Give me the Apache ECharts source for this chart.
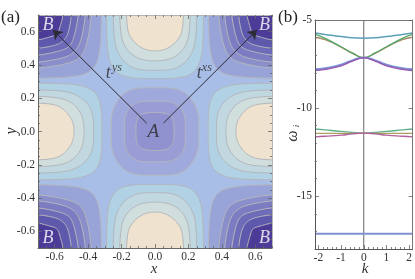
<!DOCTYPE html>
<html><head><meta charset="utf-8">
<style>html,body{margin:0;padding:0;background:#fff}#c{width:415px;height:279px}</style>
<script src="https://cdn.jsdelivr.net/npm/echarts@6/dist/echarts.min.js"></script>
</head><body><div id="c"></div>
<script>
// ---- panel (a): contour lines read in one quadrant, [x,y]
const cornerContours = [
 [[.32,.9],[.32,.6],[.335,.44],[.37,.37]],
 [[.37,.9],[.378,.7],[.405,.53],[.442,.442]],
 [[.405,.9],[.414,.7],[.442,.54],[.478,.478]],
 [[.445,.9],[.456,.7],[.485,.56],[.51,.51]],
 [[.485,.9],[.498,.7],[.518,.59],[.545,.545]],
 [[.53,.9],[.548,.7],[.568,.63],[.582,.582]]
];
const cornerColors = ['#98a4d8','#8a8ecb','#7b7cc2','#6e6bb9','#5f59ae','#4c3c98'];
const edgeContours = [
 [[.9,.29],[.55,.29],[.42,.275],[.34,.225],[.318,.12],[.318,0]],
 [[.9,.25],[.6,.25],[.48,.23],[.4,.17],[.368,.09],[.368,0]],
 [[.9,.215],[.6,.21],[.5,.18],[.44,.11],[.425,.04],[.425,0]],
 [[.9,.175],[.62,.17],[.55,.14],[.5,.08],[.485,.03],[.485,0]]
];
const edgeColors = ['#b1d2e5','#c2d8e1','#d0dfdd','#efe3cf'];
const centerContours = [
 [[0,.262],[.12,.262],[.19,.228],[.235,.17],[.262,.1],[.262,0]],
 [[0,.182],[.09,.182],[.14,.155],[.165,.125],[.182,.08],[.182,0]],
 [[0,.115],[.06,.112],[.095,.095],[.112,.06],[.115,0]]
];
const centerColors = ['#a0a9dc','#9a9dd5','#8f92cf'];
const saddleColor = '#a9bee6';
const contourLine = '#b4b6bb';
const arrowsA = [[[-.05,.05],[-.61,.61]],[[.05,.05],[.61,.61]]];
const labelsWhite = [[-.64,.64,'B'],[.655,.64,'B'],[-.64,-.64,'B'],[.655,-.64,'B']];
const labelsDark = [[-.01,-.005,'A',19],[-.28,.35,'t',18],[.265,.35,'t',18],[-.228,.385,'ys',12],[.31,.385,'xs',12]];
const ticksA = [-.6,-.4,-.2,0,.2,.4,.6];
const minorA = [-.7,-.65,-.55,-.5,-.45,-.35,-.3,-.25,-.15,-.1,-.05,.05,.1,.15,.25,.3,.35,.45,.5,.55,.65,.7];
// ---- panel (b): bands
const kPts = [-2.15,-1.7,-1,-.5,0,.5,1,1.7,2.15];
const bandTeal   = [-5.74,-5.82,-5.94,-6.01,-6.03,-6.01,-5.94,-5.82,-5.74];
const bandBrown  = [-5.98,-6.12,-6.54,-6.89,-7.14,-6.89,-6.54,-6.12,-5.98];
const bandGreen  = [-5.82,-6.04,-6.52,-6.87,-7.14,-6.87,-6.52,-6.04,-5.82];
const bandBlue   = [-7.8,-7.74,-7.54,-7.29,-7.14,-7.29,-7.54,-7.74,-7.8];
const bandPurple = [-7.87,-7.8,-7.6,-7.33,-7.14,-7.33,-7.6,-7.8,-7.87];
const midGreen   = [-11.19,-11.24,-11.32,-11.39,-11.42,-11.39,-11.32,-11.24,-11.19];
const midOlive   = [-11.44,-11.44,-11.44,-11.44,-11.44,-11.44,-11.44,-11.44,-11.44];
const midPurple  = [-11.63,-11.6,-11.54,-11.46,-11.42,-11.46,-11.54,-11.6,-11.63];
const lowBlue    = [-17.14,-17.14,-17.14,-17.14,-17.14,-17.14,-17.14,-17.14,-17.14];
const ticksK = [-2,-1,0,1,2];
const minorK = [-2.2,-1.8,-1.6,-1.4,-1.2,-.8,-.6,-.4,-.2,.2,.4,.6,.8,1.2,1.4,1.6,1.8,2.2];
const ticksW = [-5,-10,-15];
const minorW = [-6,-7,-8,-9,-11,-12,-13,-14,-16,-17];

// corner-rounding of the read outlines, for drawing only
const round = pts=>{
  let r = pts;
  for(let n=0;n<3;n++){
    const o=[];
    r.forEach((p,i)=>{const q=r[(i+1)%r.length];
      o.push([.75*p[0]+.25*q[0],.75*p[1]+.25*q[1]],[.25*p[0]+.75*q[0],.25*p[1]+.75*q[1]]);});
    r=o;
  }
  return r;
};
const polys = [];
const addCorner = (pts,col)=>{
  const half = round(pts.concat(pts.slice(0,-1).reverse().map(p=>[p[1],p[0]])).concat([[1.2,1.2]]));
  [[1,1],[-1,1],[1,-1],[-1,-1]].forEach(([a,b])=>{
    polys.push({pts:half.map(p=>[a*p[0],b*p[1]]),col});
  });
};
const addEdge = (pts,col)=>{
  const half = round(pts.concat(pts.slice(0,-1).reverse().map(p=>[p[0],-p[1]])));
  [0,1].forEach(sw=>[1,-1].forEach(s=>{
    polys.push({pts:half.map(p=>sw?[p[1],s*p[0]]:[s*p[0],p[1]]),col});
  }));
};
const addCenter = (pts,col)=>{
  const q4 = pts.slice(0,-1).reverse().map(p=>[p[0],-p[1]]);
  const right = pts.concat(q4);
  const left = right.slice(1,-1).reverse().map(p=>[-p[0],p[1]]);
  polys.push({pts:round(right.concat(left)),col});
};
cornerContours.forEach((c,i)=>addCorner(c,cornerColors[i]));
edgeContours.forEach((c,i)=>addEdge(c,edgeColors[i]));
centerContours.forEach((c,i)=>addCenter(c,centerColors[i]));

const serif = '"Liberation Serif"';
const lab = {fontFamily:serif,fontSize:11.5,color:'#333',margin:3};
const mkX = (gridIndex,position,vals,len,min,max,showLabel,line)=>({
  type:'value',gridIndex,position,min,max,z:6,
  splitLine:{show:false},
  axisLine:{show:!!line,onZero:false,lineStyle:{color:line||'#777',width:1}},
  axisTick:{show:true,inside:true,length:len,customValues:vals,lineStyle:{color:'#666',width:.8}},
  axisLabel:showLabel?Object.assign({show:true,customValues:vals,showMinLabel:true,showMaxLabel:true,
    formatter:v=>String(gridIndex===0?(+v).toFixed(1):v)},lab):{show:false}
});
const xAxes = [
 mkX(0,'bottom',ticksA,4,-.7,.7,true,'#666'),
 mkX(0,'bottom',minorA,2,-.7,.7,false),
 mkX(0,'top',ticksA,4,-.7,.7,false,'#b5b5b5'),
 mkX(0,'top',minorA,2,-.7,.7,false),
 mkX(1,'bottom',ticksK,4,-2.15,2.15,true,'#555'),
 mkX(1,'bottom',minorK,2,-2.15,2.15,false),
 mkX(1,'top',[],0,-2.15,2.15,false,'#777')
];
const yAxes = [
 mkX(0,'left',ticksA,4,-.7,.7,true,'#666'),
 mkX(0,'left',minorA,2,-.7,.7,false),
 mkX(0,'right',ticksA,4,-.7,.7,false,'#b5b5b5'),
 mkX(0,'right',minorA,2,-.7,.7,false),
 mkX(1,'left',ticksW,4,-18,-5,true,'#555'),
 mkX(1,'left',minorW,2,-18,-5,false),
 mkX(1,'right',ticksW,4,-18,-5,false,'#777')
];
const bandSeries = (vals,color,width)=>({
  type:'line',xAxisIndex:4,yAxisIndex:4,showSymbol:false,symbol:'none',smooth:true,z:4,
  data:kPts.map((k,i)=>[k,vals[i]]),lineStyle:{color,width},silent:true
});
const itLabel = (size,color)=>({show:true,position:'inside',fontFamily:serif,fontStyle:'italic',fontSize:size,color,
  formatter:p=>p.value[2]});
const centered = (x,y,text,font,rot)=>({type:'text',x,y,rotation:rot||0,
  style:{text,font:font+' '+serif,fill:'#333',textAlign:'center',textVerticalAlign:'middle'}});

const option = {
  animation:false,
  grid:[{left:38,top:15,width:234,height:233},{left:315,top:20,width:99,height:229}],
  xAxis:xAxes,yAxis:yAxes,
  series:[
   {type:'custom',xAxisIndex:0,yAxisIndex:0,clip:true,z:1,data:[[0]],silent:true,
    renderItem:(p,api)=>{
      const a=api.coord([-.7,.7]),b=api.coord([.7,-.7]);
      return {type:'rect',shape:{x:a[0],y:a[1],width:b[0]-a[0],height:b[1]-a[1]},style:{fill:saddleColor}};
    }},
   {type:'custom',xAxisIndex:0,yAxisIndex:0,clip:true,z:2,silent:true,
    data:polys.map((_,i)=>[i]),
    renderItem:(p,api)=>{
      const s=polys[api.value(0)];
      return {type:'polygon',shape:{points:s.pts.map(q=>api.coord(q))},
        style:{fill:s.col,stroke:contourLine,lineWidth:1}};
    }},
   {type:'lines',coordinateSystem:'cartesian2d',xAxisIndex:0,yAxisIndex:0,z:5,silent:true,
    symbol:['none','arrow'],symbolSize:[0,9],
    lineStyle:{color:'#2b2b33',width:1,opacity:1,curveness:0},
    data:arrowsA.map(c=>({coords:c}))},
   {type:'scatter',xAxisIndex:0,yAxisIndex:0,symbolSize:0,z:7,silent:true,
    data:labelsWhite,label:itLabel(18,'#fff')},
   ...labelsDark.map(d=>({type:'scatter',xAxisIndex:0,yAxisIndex:0,symbolSize:0,z:7,silent:true,
    data:[d],label:itLabel(d[3],'#2a2a2a')})),
   bandSeries(bandTeal,'#5b9fb8',1.5),
   bandSeries(bandBrown,'#a98a6a',1.3),
   bandSeries(bandGreen,'#55a868',1.3),
   bandSeries(bandBlue,'#7a8fd6',2),
   bandSeries(bandPurple,'#9a55b0',1.3),
   bandSeries(midGreen,'#5fb088',1.4),
   bandSeries(midOlive,'#a8a060',1.2),
   bandSeries(midPurple,'#b0609a',1.3),
   bandSeries(lowBlue,'#7f90d4',2),
   {type:'line',xAxisIndex:4,yAxisIndex:4,symbol:'none',z:3,silent:true,
    data:[[0,-18],[0,-5]],lineStyle:{color:'#666',width:1}}
  ],
  graphic:[
   {type:'text',x:1,y:9,style:{text:'(a)',font:'17px '+serif,fill:'#222'}},
   {type:'text',x:278,y:9,style:{text:'(b)',font:'17px '+serif,fill:'#222'}},
   centered(154,269,'x','italic 15px'),
   centered(12,131,'y','italic 16px',Math.PI/2),
   centered(365,269,'k','italic 15px'),
   centered(293,136,'ω','italic 16px',Math.PI/2),
   centered(297,126,'i','italic 9px',Math.PI/2)
  ]
};
echarts.init(document.getElementById('c'),null,{renderer:'canvas'}).setOption(option);
</script></body></html>
